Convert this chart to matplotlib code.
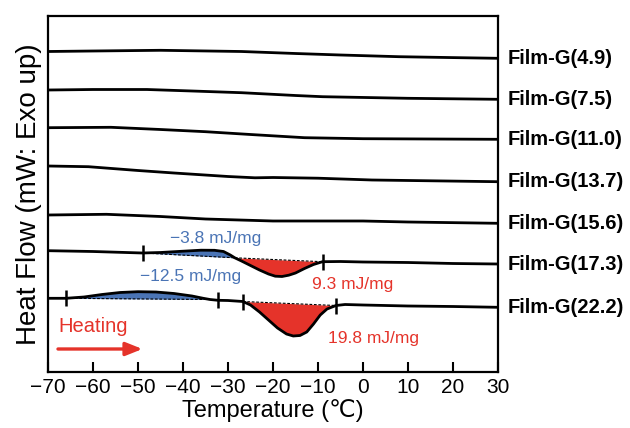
import numpy as np
import matplotlib
matplotlib.use('Agg')
import matplotlib.pyplot as plt

plt.rcParams['font.family'] = ['Liberation Sans', 'DejaVu Sans']
plt.rcParams['axes.unicode_minus'] = True

##########################################################################################
# DSC heating traces, heat flow in arbitrary offset units (exo up)

temp_49 = [-70, -60, -45, -27, -15, -5, 8, 20, 30]
hf_49 = [32.05, 32.1, 32.17, 32.05, 31.85, 31.7, 31.53, 31.44, 31.37]

temp_75 = [-70, -60, -48, -38, -27, -15, -9, 10, 30]
hf_75 = [28.2, 28.25, 28.25, 28.1, 27.93, 27.65, 27.53, 27.37, 27.27]

temp_110 = [-70, -56, -45, -35, -25, -13, 0, 30]
hf_110 = [24.43, 24.47, 24.25, 24.03, 23.75, 23.43, 23.33, 23.27]

temp_137 = [-70, -61, -50, -42, -30, -24, -20, -10, 2, 30]
hf_137 = [20.6, 20.53, 20.15, 19.9, 19.55, 19.42, 19.45, 19.38, 19.2, 19.03]

temp_156 = [-70, -57, -45, -35, -20, 0, 10, 30]
hf_156 = [15.7, 15.77, 15.55, 15.3, 15.1, 15.1, 15.0, 14.87]

temp_173 = [-70, -60, -49, -45, -40, -36, -33, -31, -29.5, -28.5, -27, -25, -23, -21,
            -19.5, -18, -16.5, -15, -13, -11, -9, -5, 0, 10, 20, 30]
hf_173 = [12.13, 12.05, 11.9, 11.95, 12.08, 12.18, 12.17, 12.05, 11.7, 11.42, 11.1, 10.65,
          10.2, 9.8, 9.58, 9.55, 9.68, 9.9, 10.35, 10.75, 11.03, 11.05, 11.0, 10.95, 10.85, 10.8]

temp_222 = [-70, -66, -62, -58, -54, -50, -46, -42, -38, -35.5, -34, -32.2, -30, -26.7,
            -25, -23, -21, -19, -17, -15.5, -14, -12.5, -11, -9.5, -8, -6, -4, 0, 10, 20, 30]
hf_222 = [7.37, 7.37, 7.5, 7.75, 7.95, 8.03, 8.0, 7.85, 7.6, 7.37, 7.25, 7.17, 7.15, 7.05,
          6.7, 6.0, 5.2, 4.4, 3.8, 3.6, 3.65, 4.0, 4.8, 5.7, 6.3, 6.65, 6.75, 6.7, 6.6, 6.55, 6.47]

film_labels = ['Film-G(4.9)', 'Film-G(7.5)', 'Film-G(11.0)', 'Film-G(13.7)',
               'Film-G(15.6)', 'Film-G(17.3)', 'Film-G(22.2)']

# integration limits (cold crystallization = blue, melting = red)
blue_173 = [-49, -28.5]
red_173 = [-28.5, -9]
blue_222 = [-66, -34]
red_222 = [-26.7, -6]
marks_173 = [-49, -9]
marks_222 = [-66, -32.2, -26.7, -6]

enthalpy_labels = ['\u22123.8 mJ/mg', '\u221212.5 mJ/mg', '9.3 mJ/mg', '19.8 mJ/mg']

RED = '#e5332a'
BLUE = '#4a74b5'

##########################################################################################

def fillPeak(ax, T, hf, limits, color, above):

    T = np.asarray(T, dtype=float)
    hf = np.asarray(hf, dtype=float)
    sel = (T >= limits[0]) & (T <= limits[1])
    t = T[sel]
    y = hf[sel]
    # straight baseline between the two integration limits
    base = y[0] + (y[-1] - y[0]) * (t - t[0]) / (t[-1] - t[0])
    if above:
        ax.fill_between(t, base, y, where=y >= base, color=color, lw=0, interpolate=True)
    else:
        ax.fill_between(t, base, y, where=y <= base, color=color, lw=0, interpolate=True)
    ax.plot([t[0], t[-1]], [y[0], y[-1]], ls=(0, (2.5, 1.5)), lw=0.8, color='black', zorder=3)


fig = plt.figure(figsize=(6.3, 4.28), dpi=100)
ax = fig.add_axes([48/630., 56/428., 450/630., 356/428.])

fillPeak(ax, temp_173, hf_173, blue_173, BLUE, True)
fillPeak(ax, temp_173, hf_173, red_173, RED, False)
fillPeak(ax, temp_222, hf_222, blue_222, BLUE, True)
fillPeak(ax, temp_222, hf_222, red_222, RED, False)

curves = [(temp_49, hf_49), (temp_75, hf_75), (temp_110, hf_110), (temp_137, hf_137),
          (temp_156, hf_156), (temp_173, hf_173), (temp_222, hf_222)]

for (T, hf), name in zip(curves, film_labels):
    ax.plot(T, hf, color='black', lw=2.0, solid_joinstyle='round', zorder=4)
    ax.annotate(name, xy=(T[-1], hf[-1]), xytext=(7, 0), textcoords='offset points',
                ha='left', va='center', fontsize=14.5, fontweight='bold', annotation_clip=False)

# integration limit marks
ax.plot(marks_173, np.interp(marks_173, temp_173, hf_173), ls='none', marker='|',
        ms=12, mew=1.8, color='black', zorder=5)
ax.plot(marks_222, np.interp(marks_222, temp_222, hf_222), ls='none', marker='|',
        ms=12, mew=1.8, color='black', zorder=5)

ax.text(-32.7, 13.3, enthalpy_labels[0], color=BLUE, fontsize=12.5, ha='center', va='center')
ax.text(-38.4, 9.6, enthalpy_labels[1], color=BLUE, fontsize=12.5, ha='center', va='center')
ax.text(-2.2, 8.7, enthalpy_labels[2], color=RED, fontsize=12.5, ha='center', va='center')
ax.text(2.3, 3.4, enthalpy_labels[3], color=RED, fontsize=12.5, ha='center', va='center')

ax.text(-60, 4.5, 'Heating', color=RED, fontsize=14.5, ha='center', va='center')
ax.annotate('', xy=(-48.4, 2.3), xytext=(-68.4, 2.3),
            arrowprops=dict(arrowstyle='-|>,head_length=1.0,head_width=0.4', color=RED, lw=2.4))

ax.set_xlim(-70, 30)
ax.set_ylim(0, 35.6)
ax.set_xticks(np.arange(-70, 31, 10))
ax.set_yticks([])
ax.tick_params(axis='x', direction='in', length=7, width=1.5, labelsize=15, pad=4)
for spine in ax.spines.values():
    spine.set_linewidth(1.6)

ax.set_xlabel('Temperature (\u2103)', fontsize=17, labelpad=2)
ax.set_ylabel('Heat Flow (mW: Exo up)', fontsize=20, labelpad=4)

fig.savefig('out.png', dpi=100)
